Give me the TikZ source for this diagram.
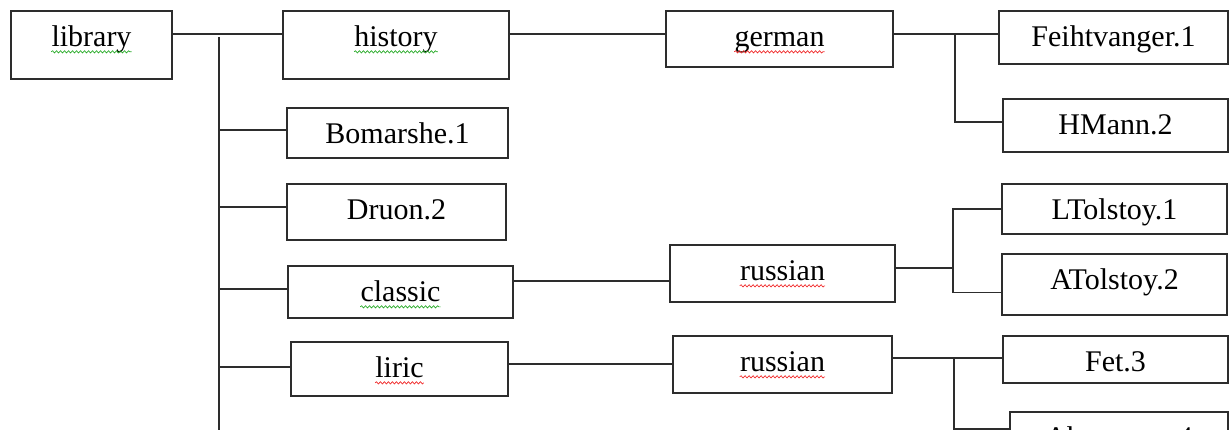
\documentclass[tikz,border=0pt]{standalone}
\usepackage{fontspec}
\setmainfont{Liberation Serif}
\usetikzlibrary{decorations.pathmorphing,calc}
\definecolor{ln}{RGB}{45,45,45}
\definecolor{sqg}{RGB}{40,170,40}
\definecolor{sqr}{RGB}{240,40,40}
\tikzset{
  box/.style={draw=ln, line width=1.3pt, rectangle, inner sep=0pt},
  lab/.style={anchor=base, inner sep=0pt, font=\fontsize{30}{36}\selectfont},
  conn/.style={draw=ln, line width=1.3pt},
  squig/.style={decorate, decoration={snake, segment length=4pt, amplitude=1.1pt}, line width=0.7pt},
}
\newcommand{\bx}[6]{% name, x1, y1, x2, y2, text
  \node[box, minimum width={#4-#2}, minimum height={#5-#3}] (#1) at ({(#2+#4)/2},{(#3+#5)/2}) {};
  \node[lab] (#1-t) at ([yshift=-36.5pt]#1.north) {#6};
}
\begin{document}
\begin{tikzpicture}[x=1pt,y=-1pt]
\useasboundingbox (0,0) rectangle (1230,430);
\clip (0,0) rectangle (1230,430);
% boxes
\bx{library}{11}{11}{172}{79}{library}
\bx{history}{283}{11}{509}{79}{history}
\bx{german}{666}{11}{893}{67}{german}
\bx{feiht}{999}{11}{1228}{64}{Feihtvanger.1}
\bx{hmann}{1003}{99}{1228}{152}{HMann.2}
\bx{bomarshe}{287}{108}{508}{158}{Bomarshe.1}
\bx{druon}{287}{184}{506}{240}{Druon.2}
\bx{classic}{288}{266}{513}{318}{classic}
\bx{russianA}{670}{245}{895}{302}{russian}
\bx{ltolstoy}{1002}{184}{1227}{234}{LTolstoy.1}
\bx{atolstoy}{1002}{254}{1227}{315}{ATolstoy.2}
\bx{liric}{291}{342}{508}{396}{liric}
\bx{russianB}{673}{336}{892}{393}{russian}
\bx{fet}{1003}{336}{1228}{383}{Fet.3}
\bx{ahm}{1010}{412}{1228}{462}{Ahmatova.4}
% spell-check underlines
\foreach \n in {library,history,classic}
  \draw[squig, sqg] ([yshift=-5pt]\n-t.base west) -- ([yshift=-5pt]\n-t.base east);
\foreach \n in {german,liric,russianA,russianB}
  \draw[squig, sqr] ([yshift=-5pt]\n-t.base west) -- ([yshift=-5pt]\n-t.base east);
% junction coordinates
\coordinate (tk) at (219,37);
\coordinate (tkend) at (219,432);
\coordinate (jg) at (955,34);
\coordinate (jr) at (953,268);
\coordinate (jl) at (954,358);
\coordinate (jlend) at (954,432);
% connectors
\draw[conn] ([yshift=11pt]library.east) -- ([yshift=11pt]library.east -| history.west);
\draw[conn] (tk) -- (tkend);
\draw[conn] ([yshift=3pt]bomarshe.west -| tk) -- ([yshift=3pt]bomarshe.west);
\draw[conn] ([yshift=5pt]druon.west -| tk) -- ([yshift=5pt]druon.west);
\draw[conn] ([yshift=3pt]classic.west -| tk) -- ([yshift=3pt]classic.west);
\draw[conn] ([yshift=2pt]liric.west -| tk) -- ([yshift=2pt]liric.west);
\draw[conn] ([yshift=11pt]history.east) -- ([yshift=11pt]history.east -| german.west);
\draw[conn] ([yshift=5pt]german.east) -- ([yshift=5pt]german.east -| feiht.west);
\draw[conn] (jg) |- ([yshift=3.5pt]hmann.west);
\draw[conn] ([yshift=11pt]classic.east) -- ([yshift=11pt]classic.east -| russianA.west);
\draw[conn] ([yshift=5.5pt]russianA.east) -- (jr);
\draw[conn] (ltolstoy.west) -| (jr);
\draw[conn] ([yshift=-8pt]atolstoy.west) -| (jr);
\draw[conn] ([yshift=5pt]liric.east) -- ([yshift=5pt]liric.east -| russianB.west);
\draw[conn] ([yshift=6.5pt]russianB.east) -- ([yshift=6.5pt]russianB.east -| fet.west);
\draw[conn] (jl) -- (jlend);
\draw[conn] (jl) |- ([yshift=8pt]ahm.west);
\end{tikzpicture}
\end{document}
